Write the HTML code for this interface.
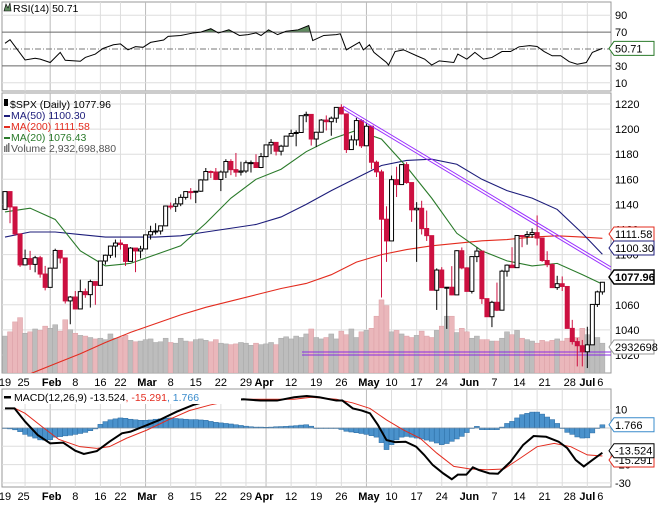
<!DOCTYPE html>
<html><head><meta charset="utf-8"><style>
body{margin:0;background:#fff}
svg{display:block;font-family:"Liberation Sans",sans-serif}
</style></head><body>
<svg id="c" width="659" height="507" viewBox="0 0 659 507">
<rect x="0" y="0" width="659" height="507" fill="#fff"/>
<g id="grid"></g>
<g id="rsi"></g>
<g id="main"></g>
<g id="macd"></g>
<g id="axes"></g>
</svg>
<script>
// ---------------- data ----------------
const closes=[1150.2,1138.0,1116.5,1091.8,1096.8,1092.2,1097.5,1084.5,1073.9,1089.2,
1103.3,1097.3,1063.1,1066.2,1056.7,1070.5,1068.1,1078.5,1075.5,1094.9,
1099.5,1106.8,1109.2,1108.0,1094.6,1105.2,1102.9,1104.5,1115.7,1118.3,
1118.8,1122.9,1138.7,1138.5,1140.4,1145.6,1150.2,1149.9,1150.5,1159.5,
1166.2,1165.8,1159.9,1165.8,1174.2,1167.7,1165.7,1166.6,1173.2,1173.3,
1169.4,1178.1,1187.4,1189.4,1182.4,1186.4,1194.4,1196.5,1197.3,1210.7,
1211.7,1192.1,1197.5,1207.2,1205.9,1208.7,1217.3,1212.1,1183.7,1191.4,
1206.8,1186.7,1202.3,1173.6,1165.9,1128.2,1110.9,1159.7,1155.8,1171.7,
1157.4,1135.7,1136.9,1120.8,1115.1,1071.6,1087.7,1073.7,1074.0,1067.9,
1103.1,1089.4,1070.7,1098.4,1102.8,1064.9,1050.5,1062.0,1055.7,1086.8,
1091.6,1089.6,1115.2,1114.6,1116.0,1117.5,1113.2,1095.3,1092.0,1073.7,
1076.8,1074.6,1041.2,1030.7,1027.4,1022.6,1028.1,1060.3,1070.3,1077.96];
const highs=[1150.5,1150.4,1136,1115,1104,1103,1099,1099,1091,1089.5,
1104.7,1103,1097,1067,1071,1080,1073,1080,1075.5,1095,
1100,1107,1112,1112,1108,1106,1103,1107,1116,1123,
1125,1123,1139,1141.5,1145,1148,1150.3,1153,1150.7,1160,
1169,1167,1169,1167,1176,1176,1181,1174,1175,1175,
1180,1181,1187.7,1192,1189.5,1187.5,1194.7,1199.6,1199,1210.7,
1213.9,1211,1197.8,1208,1210.9,1210,1217.4,1219.8,1212,1195,
1209,1208,1205,1201,1174.9,1167.6,1138.5,1163,1170,1171.9,
1173.6,1157.2,1141.8,1142.9,1135.1,1107.3,1089,1090,1074.2,1090.8,
1103.5,1105.7,1090,1098.6,1105.7,1102.8,1063.1,1063.2,1077.7,1087.9,
1092.2,1105.9,1115.6,1115,1118.7,1120.9,1131.2,1113,1102.7,1093,
1083.1,1082.6,1071.7,1048,1033.6,1032,1042.5,1060.4,1071.3,1078.2];
const lows=[1136,1125,1115,1090.2,1091.6,1087.8,1085.9,1081.6,1071.5,1073.9,
1089,1093,1061,1044.5,1056.5,1058.5,1065.6,1057.8,1060,1075.5,
1092,1097.2,1097.7,1104,1091,1094.7,1086,1097,1105,1112,
1116,1116,1123,1136,1134,1138.6,1143.8,1144,1141,1150,
1159,1161,1159.4,1150.6,1161,1163.3,1162,1163,1165,1165.4,
1169,1168.9,1177.6,1180.1,1179,1179,1187,1194,1186.3,1198,
1205.5,1186.9,1185.7,1197.4,1198.9,1194.7,1205,1211.6,1181,1184,
1187,1185,1188.6,1168,1161.8,1065.8,1094.2,1125.6,1145.9,1156.2,
1156.4,1126.1,1094.2,1116,1110.9,1071.6,1055.9,1073.5,1040.8,1067.6,
1069.6,1088.3,1070.5,1069,1094,1060.7,1050.4,1042.2,1055,1056,
1082.5,1089.4,1091.5,1105.9,1107.9,1113.3,1107.3,1094.2,1090,1073.6,
1071.9,1071,1041.2,1028.3,1010.9,1010.9,1009.6,1028,1058.3,1068.1];
const firstOpen=1136;
const volumes=[5.2,5.8,7.2,7.8,5.6,5.8,6.2,6.0,6.6,6.3,
6.8,5.9,7.5,6.1,5.6,5.3,5.2,5.0,4.8,4.9,
4.7,5.5,4.9,5.0,5.3,4.6,4.4,4.5,4.7,4.8,
4.3,4.4,4.9,4.3,4.2,4.9,4.5,4.4,4.7,4.8,
4.6,4.4,4.7,4.2,4.1,4.0,4.1,4.3,4.2,3.9,
4.2,4.0,4.1,4.3,4.0,4.9,5.1,4.8,5.2,5.0,
5.5,6.2,5.0,4.8,5.0,5.5,4.8,5.9,5.4,6.2,
5.0,5.8,6.0,6.3,8.0,10.3,9.5,5.8,6.0,5.5,
5.2,5.0,5.3,5.9,5.2,5.0,6.0,6.6,8.0,8.0,
5.7,6.3,5.8,4.9,5.2,4.7,4.7,4.5,4.5,4.9,
5.8,5.4,6.0,4.9,4.7,4.5,4.2,4.6,4.4,4.6,
4.8,4.5,4.9,5.0,5.0,6.3,5.4,5.0,5.0,4.2];
const maIdx=[0,5,10,15,20,25,30,35,40,45,50,55,60,65,70,75,80,85,90,95,100,105,110,115,119];
const ma20=[1134,1137,1128,1103,1091,1093,1100,1107,1125,1145,1160,1168,1182,1192,1199,1192,1170,1145,1117,1103,1095,1091,1093,1084,1076.43];
const ma50=[1114,1118,1118,1116,1114,1114,1114,1115,1118,1121,1124,1130,1140,1151,1161,1171,1175,1176,1172,1160,1151,1145,1136,1117,1100.30];
const ma200=[998,1005,1013,1021,1030,1038,1045,1052,1058,1063,1068,1073,1077,1084,1094,1100,1104,1107,1109,1111,1112,1114,1115,1114,1113];
const rsiIdx=[0,1,4,6,7,9,11,12,15,16,18,19.5,21.6,23,24.5,26,27.5,29,31.6,32.5,35,37.5,39,41,42.5,44.6,46.7,48.4,50,51,52.5,54.3,56,58.4,60.5,61.3,63.5,66,66.8,68,70.6,71.4,72.6,73.5,76,76.4,77.7,79.4,82,83.6,85,86.5,89.4,90.2,92,93.6,95.3,97,99,100.7,102.4,104.5,106,107.4,109,110.7,112.4,114,115.8,117,119];
const rsiVal=[56.7,61,37,39,38,34,46,36.7,35.5,40,44,50.6,55,56,49,52.8,52,57.8,60.6,65,66,69,70,74,69,72.7,66,67,69,66,72.7,67,71,72.7,77.8,60,66,67,68,49,58,49,55,46,34,31,47,49,42,38,31,36,34,44,38,46,38,40,47,47,52.6,54,53,47,42,42,35,32,34,46,50.71];
const macdIdx=[0,1.9,4,6.5,9,11.6,14,15.7,18.3,20.8,23.3,25,28.3,30.8,34.2,37.5,39,47.5,50.9,54.2,57.6,60.1,62.6,66,67.2,69.3,71,72.7,74.3,76,77.7,79.8,81.9,83.5,85.2,87.3,89,90.2,91.9,93.2,94.4,96.5,98.2,100.7,103.2,105.3,107.8,110.3,112,113.7,115.3,117,119];
const macdVal=[10.7,10.7,3.5,-3.8,-8.4,-8,-12.4,-14.2,-12.6,-7.5,-2.9,-2,1.6,4.4,8.9,12.6,13.8,15.7,15,15,16.8,17.5,16.8,15,15,10.7,9.6,8,1.6,-6.6,-7.7,-7.5,-10.2,-14.7,-20.2,-24.8,-28,-25.5,-25.5,-21.5,-23,-24.8,-25,-18.4,-9.3,-4.4,-4.8,-7.5,-11,-17.5,-21,-17.5,-13.524];
const sigIdx=[0,2,4,7.4,10.7,14.9,18.3,20.8,24.2,28.3,32.5,36.7,40.9,44.2,47.5,57.6,61,66,69.3,72.7,76,79.4,82.7,86,89.4,92.7,96,99.4,102.7,106,109.4,112.7,116,119];
const sigVal=[10.7,10.7,8,0.7,-6.2,-10.2,-11.1,-10.2,-5.6,-1.1,4.4,9.5,12.6,14.4,15.7,15.7,16.8,15.7,13.7,10.7,4.4,-1.1,-5.6,-13.7,-21,-22.4,-22.8,-22.4,-16.4,-10.2,-8.4,-10.2,-14.7,-15.291];
const hist=[0,-0.5,-1,-2,-3.5,-4.5,-5.5,-6.5,-6.7,-6.4,
-5,-4.7,-4.3,-4,-3.5,-3,-2.4,-1.5,-0.5,2,
3.5,4.5,5,5.5,5.3,4.8,4.5,4.2,4.2,4.4,
4.8,5,5.3,5.5,5.2,5,4.8,4.6,4.6,4.4,
4.2,3.6,3.1,2.8,2.5,2.2,1.8,1.4,1,0.7,
0.5,0.5,0.4,0.5,0.7,0.8,0.9,1.1,1.3,1.6,
1.8,1,0,0,0,0,0,-0.8,-1.8,-2.2,
-2.6,-3,-3.5,-4.2,-5,-8,-11.8,-9.1,-6.5,-5,
-4.6,-5,-5.5,-6,-6.6,-7.3,-8.2,-9.1,-8.5,-7.3,
-6,-4.6,-2.5,0,0.9,-0.9,-0.9,-0.9,-0.9,0.5,
2.5,3.6,5.5,7.3,8,8.7,8.7,7.6,6,4.6,
2.5,0,-2.4,-3.5,-4.9,-5.5,-5.4,-2.7,0,1.766];
const gridIdx=[4,9,14,19,23,28,33,38,43,48,52,57,62,67,72,77,82,87,92,96,101,106,111,116];
const monthIdx=[9,28,52,72,92,114];
const dateLabels=["19","25","Feb","8","16","22","Mar","8","15","22","29","Apr","12","19","26","May","10","17","24","Jun","7","14","21","28","Jul","6"];
const dateLabelIdx=[0,3.7,9.3,14,19,23,28.3,33,38,43,48,51.6,57,62,67,72.5,77,82,87,92.5,97.5,102.5,107.5,112.5,116,118.6];
const priceTicks=[1220,1200,1180,1160,1140,1120,1100,1080,1060,1040,1020];
const rsiTicks=[90,70,30,10];
const macdTicks=[10,-20,-30];

// ---------------- scales ----------------
const NS="http://www.w3.org/2000/svg";
const PL=2,PR=611;
const X=i=>5+i*5.02;
const yP=p=>104+(1220-p)*1.255;
const yR=r=>49-(r-50)*0.845;
const yM=m=>428-m*1.83;
const yV=v=>373-v*7.1;
function el(parent,tag,attrs,text){const e=document.createElementNS(NS,tag);for(const k in attrs)e.setAttribute(k,attrs[k]);if(text!==undefined)e.textContent=text;parent.appendChild(e);return e;}
const grid=document.getElementById('grid'),gR=document.getElementById('rsi'),gM=document.getElementById('main'),gD=document.getElementById('macd'),gA=document.getElementById('axes');

// clip paths
const defs=el(document.getElementById('c'),'defs',{});
const cp1=el(defs,'clipPath',{id:'clipMain'});el(cp1,'rect',{x:PL,y:93,width:PR-PL,height:280});
const cp2=el(defs,'clipPath',{id:'clipRsi'});el(cp2,'rect',{x:PL,y:2,width:PR-PL,height:89});
const cp3=el(defs,'clipPath',{id:'clipMacd'});el(cp3,'rect',{x:PL,y:389,width:PR-PL,height:98});

// panels: [top,bottom]
const panels=[[2,91,'rsi-panel'],[93,373,'price-panel'],[389,487,'macd-panel']];
panels.forEach(p=>{
  const r=el(grid,'rect',{x:PL,y:p[0],width:PR-PL,height:p[1]-p[0],fill:'#fff',stroke:'#999','stroke-width':1});
  
  
  gridIdx.forEach(i=>{
    const m=monthIdx.includes(i);
    el(grid,'line',{x1:X(i),x2:X(i),y1:p[0],y2:p[1],stroke:m?'#bbb':'#ddd','stroke-width':1});
  });
});
priceTicks.forEach(t=>{el(grid,'line',{x1:PL,x2:PR,y1:yP(t),y2:yP(t),stroke:'#ddd'});});
[90,10].forEach(t=>el(grid,'line',{x1:PL,x2:PR,y1:yR(t),y2:yR(t),stroke:'#ddd'}));
[10,-10,-20,-30].forEach(t=>el(grid,'line',{x1:PL,x2:PR,y1:yM(t),y2:yM(t),stroke:'#ddd'}));

// ---------- RSI ----------
const rsiC=el(gR,'g',{'clip-path':'url(#clipRsi)'});
// overbought fill
let pts=rsiIdx.map((d,k)=>X(d)+','+yR(rsiVal[k])).join(' ');
const clipOB=el(defs,'clipPath',{id:'clipOB'});el(clipOB,'rect',{x:PL,y:0,width:PR-PL,height:yR(70)});
const ob=el(rsiC,'polygon',{points:X(rsiIdx[0])+','+yR(70)+' '+pts+' '+X(rsiIdx[rsiIdx.length-1])+','+yR(70),fill:'#5f8a5f','clip-path':'url(#clipOB)'});


el(rsiC,'line',{x1:PL,x2:PR,y1:yR(70),y2:yR(70),stroke:'#666'});
el(rsiC,'line',{x1:PL,x2:PR,y1:yR(30),y2:yR(30),stroke:'#666'});
el(rsiC,'line',{x1:PL,x2:PR,y1:yR(50),y2:yR(50),stroke:'#777','stroke-dasharray':'6,2,1,2'});
const rl=el(rsiC,'polyline',{points:pts,fill:'none',stroke:'#000','stroke-width':1});



// ---------- price panel ----------
const pC=el(gM,'g',{'clip-path':'url(#clipMain)'});
// volume
closes.forEach((c,i)=>{
  const o=i?closes[i-1]:firstOpen;
  const up=c>=o;
  const r=el(pC,'rect',{x:X(i)-2.5,y:yV(volumes[i]),width:5,height:373-yV(volumes[i]),fill:up?'#bdbdbd':'#eab7bb',stroke:up?'#a8a8a8':'#dca0a6','stroke-width':0.5});
  
  
});
// horizontal support line
const hl=el(pC,'g',{});


el(hl,'line',{x1:302,x2:PR,y1:352,y2:352,stroke:'#8a2be2','stroke-width':1});
el(hl,'line',{x1:302,x2:PR,y1:355,y2:355,stroke:'#8a2be2','stroke-width':1});
// MAs
function maLine(vals,color,name){
  const l=el(pC,'polyline',{points:maIdx.map((d,k)=>X(d)+','+yP(vals[k])).join(' '),fill:'none',stroke:color,'stroke-width':1.1});
  
  
}
maLine(ma200,'#e32b1e','ma200-line');
maLine(ma50,'#1c1c7a','ma50-line');
maLine(ma20,'#2a7a2a','ma20-line');
// candles
closes.forEach((c,i)=>{
  const o=i?closes[i-1]:firstOpen;
  const up=c>=o;
  const col=up?'#000':'#cc1040';
  const g=el(pC,'g',{});
  
  
  el(g,'line',{x1:X(i),x2:X(i),y1:yP(highs[i]),y2:yP(lows[i]),stroke:col,'stroke-width':1});
  const top=yP(Math.max(o,c)),bot=yP(Math.min(o,c));
  el(g,'rect',{x:X(i)-2,y:top,width:4,height:Math.max(1,bot-top),fill:up?'#fff':'#cc1040',stroke:col,'stroke-width':1});
});
// trendline
const tl=el(pC,'g',{});


el(tl,'line',{x1:343,y1:106,x2:611,y2:267,stroke:'#9b30ff','stroke-width':1});
el(tl,'line',{x1:343,y1:109,x2:611,y2:270,stroke:'#9b30ff','stroke-width':1});

// legends
function legend(parent,x,y,parts,name){
  const t=el(parent,'text',{x:x,y:y,'font-size':10.5});
  parts.forEach(p=>el(t,'tspan',{fill:p[1]},p[0]));
  
  
}
el(gR,'path',{d:'M4 11 L6 4 L8 8 L10 3 L11 11 Z',fill:'#5f8a5f',stroke:'#000','stroke-width':0.6});
legend(gR,13,12,[['RSI(14) 50.71','#000']],'rsi-legend');
el(gM,'rect',{x:4,y:99,width:4,height:7,fill:'#000'});
legend(gM,10,108,[['$SPX (Daily) 1077.96','#000']],'price-legend');
el(gM,'rect',{x:4,y:115,width:6,height:2,fill:'#1c1c7a'});
legend(gM,11,119,[['MA(50) 1100.30','#1c1c7a']],'ma50-legend');
el(gM,'rect',{x:4,y:126,width:6,height:2,fill:'#e32b1e'});
legend(gM,11,130,[['MA(200) 1111.58','#e32b1e']],'ma200-legend');
el(gM,'rect',{x:4,y:137,width:6,height:2,fill:'#2a7a2a'});
legend(gM,11,141,[['MA(20) 1076.43','#2a7a2a']],'ma20-legend');
[0,1,2].forEach(k=>el(gM,'rect',{x:4+k*2,y:146-k*1.5,width:1.5,height:6+k*1.5,fill:'#777'}));
legend(gM,11,152,[['Volume 2,932,698,880','#555']],'volume-legend');

// ---------- MACD ----------
const mC=el(gD,'g',{'clip-path':'url(#clipMacd)'});
hist.forEach((h,i)=>{
  const y0=yM(0),y1=yM(h);
  const r=el(mC,'rect',{x:X(i)-2.5,y:Math.min(y0,y1),width:5,height:Math.max(0.5,Math.abs(y1-y0)),fill:'#4a92cc',stroke:'#2a6aa0','stroke-width':0.5});
  
  
});
el(mC,'line',{x1:PL,x2:PR,y1:yM(0),y2:yM(0),stroke:'#999','stroke-width':0.5});
const sl=el(mC,'polyline',{points:sigIdx.map((d,k)=>X(d)+','+yM(sigVal[k])).join(' '),fill:'none',stroke:'#e32b1e','stroke-width':1});


const ml=el(mC,'polyline',{points:macdIdx.map((d,k)=>X(d)+','+yM(macdVal[k])).join(' '),fill:'none',stroke:'#000','stroke-width':2});


el(gD,'rect',{x:3,y:390,width:238,height:14,fill:'#fff'});
el(gD,'rect',{x:4,y:396,width:7,height:2.5,fill:'#000'});
legend(gD,14,401,[['MACD(12,26,9) -13.524','#000'],[', -15.291','#e32b1e'],[', 1.766','#3a8ccc']],'macd-legend');

// ---------- axes ----------
function tick(y,txt,name){const t=el(gA,'text',{x:615,y:y+4,'font-size':11,fill:'#000'},txt);}
priceTicks.forEach(t=>tick(yP(t),String(t),'price-tick-label'));
rsiTicks.forEach(t=>tick(yR(t),String(t),'rsi-tick-label'));
macdTicks.forEach(t=>tick(yM(t),String(t),'macd-tick-label'));
function tag(y,txt,color,bold,name){
  const g=el(gA,'g',{});
  
  
  el(g,'path',{d:`M609 ${y} L614 ${y-7} L654 ${y-7} L654 ${y+7} L614 ${y+7} Z`,fill:'#fff',stroke:color,'stroke-width':bold?1.5:1});
  el(g,'text',{x:615,y:y+4,'font-size':11,'font-weight':bold?'bold':'normal',fill:'#000'},txt);
}
tag(yR(50.71),'50.71','#2a7a2a',false,'rsi-value-tag');
tag(234,'1111.58','#e32b1e',false,'ma200-value-tag');
tag(248,'1100.30','#1c1c7a',false,'ma50-value-tag');
tag(347,'2932698','#999',false,'volume-value-tag');
tag(277,'1077.96','#000',true,'price-value-tag');
tag(yM(1.766),'1.766','#3a8ccc',false,'histogram-value-tag');
tag(yM(-15.291)+4,'-15.291','#e32b1e',false,'signal-value-tag');
tag(yM(-13.524)-2,'-13.524','#000',false,'macd-value-tag');
// date labels (two rows)
[386,500].forEach(y=>{
  dateLabels.forEach((lab,k)=>{
    const month=isNaN(+lab);
    const t=el(gA,'text',{x:X(dateLabelIdx[k]),y:y,'font-size':11,'text-anchor':'middle','font-weight':month?'bold':'normal',fill:'#000'},lab);
    
    
  });
});
</script>
</body></html>
